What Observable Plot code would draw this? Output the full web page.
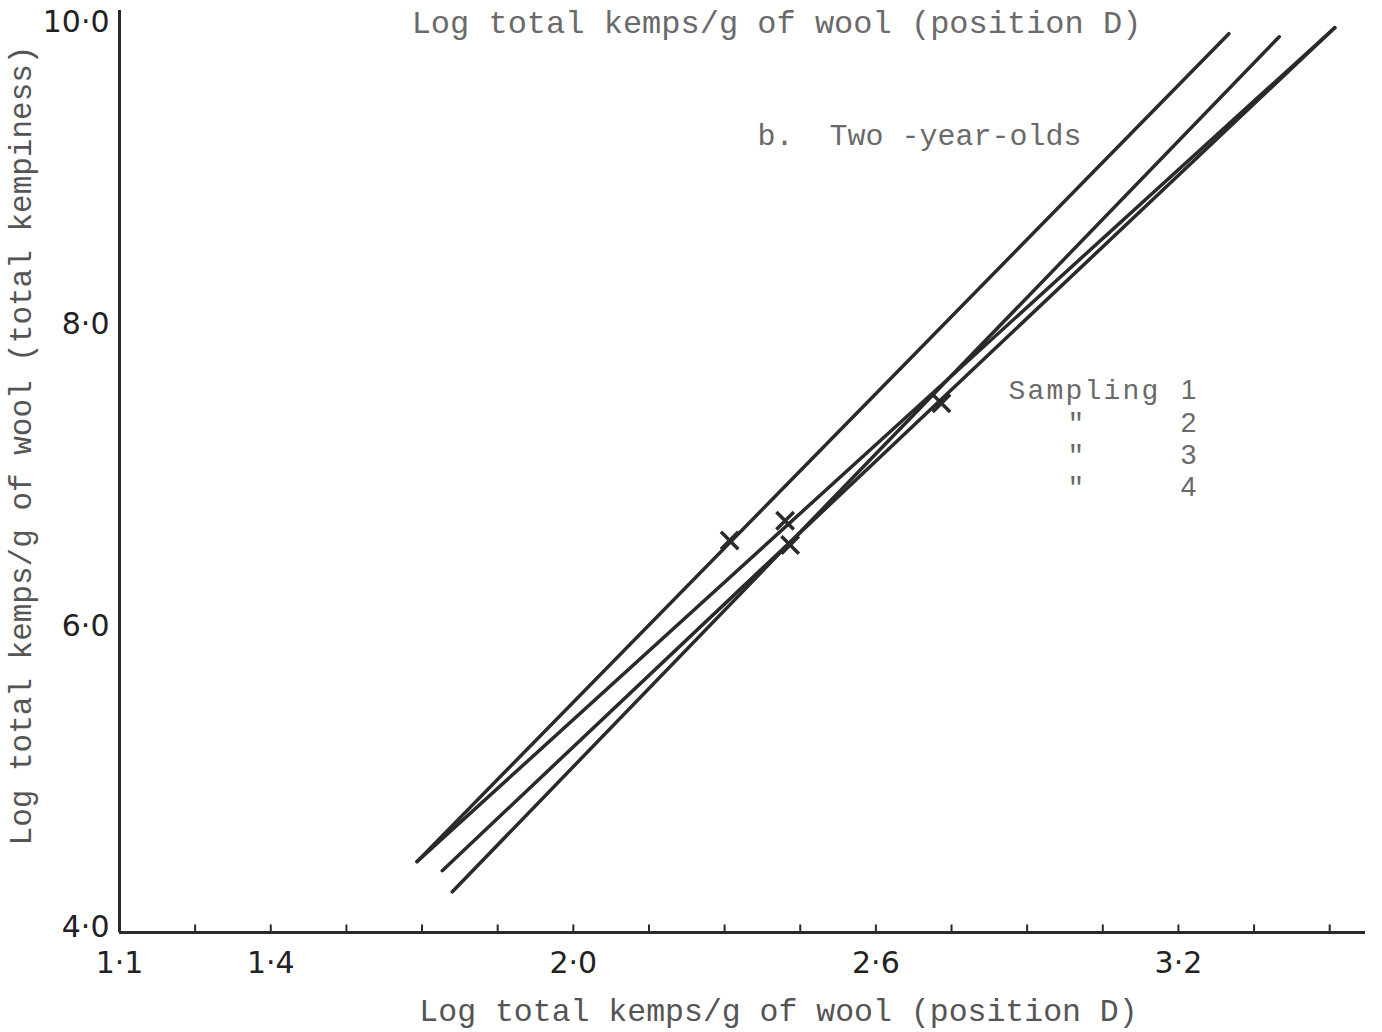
<!DOCTYPE html>
<html>
<head>
<meta charset="utf-8">
<script src="https://cdn.jsdelivr.net/npm/d3@7"></script>
<script src="https://cdn.jsdelivr.net/npm/@observablehq/plot@0.6"></script>
<style>
  html, body { margin: 0; padding: 0; background: #fff; }
  #chart svg { display: block; }
</style>
</head>
<body>
<div id="chart"></div>
<script>
// Regression lines, one per sampling (start and end of each fitted line)
const samplings = ["Sampling 1", "Sampling 2", "Sampling 3", "Sampling 4"];
const startX = [1.69, 1.69, 1.74, 1.76];
const startY = [4.47, 4.47, 4.41, 4.27];
const endX = [3.30, 3.51, 3.51, 3.40];
const endY = [9.96, 10.00, 10.00, 9.94];
// Mean points (crosses) on each line
const meanX = [2.31, 2.42, 2.73, 2.43];
const meanY = [6.60, 6.73, 7.51, 6.57];
// Axis ticks
const xTickValues = [1.1, 1.25, 1.4, 1.55, 1.7, 1.85, 2.0, 2.15, 2.3, 2.45, 2.6, 2.75, 2.9, 3.05, 3.2, 3.35, 3.5];
const xLabelValues = [1.1, 1.4, 2.0, 2.6, 3.2];
const yLabelValues = [4, 6, 8, 10];
// Texts
const titleText = "Log total kemps/g of wool (position D)";
const xLabelText = "Log total kemps/g of wool (position D)";
const yLabelText = "Log total kemps/g of wool (total kempiness)";
const panelText = "b.  Two -year-olds";
const legendNames = ["Sampling", "\"", "\"", "\""];
const legendNumbers = ["1", "2", "3", "4"];

const rows = samplings.map((s, i) => ({
  sampling: s, x0: startX[i], y0: startY[i], x1: endX[i], y1: endY[i], mx: meanX[i], my: meanY[i]
}));
const legendRows = legendNames.map((n, i) => ({ name: n, number: legendNumbers[i], row: i }));

const fmt = d => d.toFixed(1).replace(".", "·");
const ink = "#2a2a2a";
const typeGrey = "#6a6a6a";
const mono = "Liberation Mono, DejaVu Sans Mono, monospace";
const sans = "DejaVu Sans, sans-serif";
const rowGap = 32.3;

const legendMarks = [];
legendRows.forEach((r, i) => {
  const isFirst = i === 0;
  legendMarks.push(Plot.text([r], {
    text: "name", frameAnchor: "top-left",
    dx: isFirst ? 889 : 948, dy: 380 + i * rowGap,
    textAnchor: "start", lineAnchor: "middle",
    fontSize: 28, fontFamily: mono, fill: typeGrey
  }));
  legendMarks.push(Plot.text([r], {
    text: "number", frameAnchor: "top-left",
    dx: 1069, dy: 380 + i * rowGap,
    textAnchor: "middle", lineAnchor: "middle",
    fontSize: 28, fontFamily: "Liberation Sans, sans-serif", fill: typeGrey
  }));
});

const chart = Plot.plot({
  width: 1382,
  height: 1032,
  marginLeft: 119,
  marginRight: 17,
  marginTop: 10,
  marginBottom: 100,
  style: { background: "#fff", color: "#222" },
  x: { domain: [1.1, 3.571] },
  y: { domain: [4, 10.114] },
  marks: [
    // axis lines
    Plot.ruleY([4], { stroke: ink, strokeWidth: 3 }),
    Plot.ruleX([1.1], { stroke: ink, strokeWidth: 3 }),
    // small upward ticks on x axis
    Plot.ruleX(xTickValues, { y1: 4, y2: 4.05, stroke: ink, strokeWidth: 2 }),
    Plot.axisX({ ticks: xLabelValues, tickSize: 0, tickPadding: 19, tickFormat: fmt, fontSize: 30, fontFamily: sans, label: null }),
    Plot.axisY({ ticks: yLabelValues, tickSize: 0, tickPadding: 10, dy: -5, tickFormat: fmt, fontSize: 30, fontFamily: sans, label: null }),
    // regression lines
    Plot.link(rows, { x1: "x0", y1: "y0", x2: "x1", y2: "y1", stroke: ink, strokeWidth: 3.5, strokeLinecap: "round" }),
    // mean crosses
    Plot.dot(rows, { x: "mx", y: "my", symbol: "times", r: 8, stroke: ink, strokeWidth: 3.5 }),
    // texts
    Plot.text([titleText], { text: d => d, frameAnchor: "top-left", dx: 657, dy: 12, textAnchor: "middle", lineAnchor: "middle", fontSize: 32, fontFamily: mono, fill: typeGrey }),
    Plot.text([xLabelText], { text: d => d, frameAnchor: "bottom-left", dx: 659, dy: 78, textAnchor: "middle", lineAnchor: "middle", fontSize: 31.5, fontFamily: mono, fill: "#555" }),
    Plot.text([yLabelText], { text: d => d, frameAnchor: "top-left", dx: -98, dy: 435, rotate: -90, textAnchor: "middle", lineAnchor: "middle", fontSize: 31, fontFamily: mono, fill: "#555" }),
    Plot.text([panelText], { text: d => d, frameAnchor: "top-left", dx: 638, dy: 125, textAnchor: "start", lineAnchor: "middle", fontSize: 30, fontFamily: mono, fill: typeGrey }),
    ...legendMarks
  ]
});
// typewriter letter spacing for the legend words
d3.select(chart).selectAll("text")
  .filter(function () { return this.textContent === legendNames[0]; })
  .attr("letter-spacing", 2.2);
document.getElementById("chart").appendChild(chart);
</script>
</body>
</html>
